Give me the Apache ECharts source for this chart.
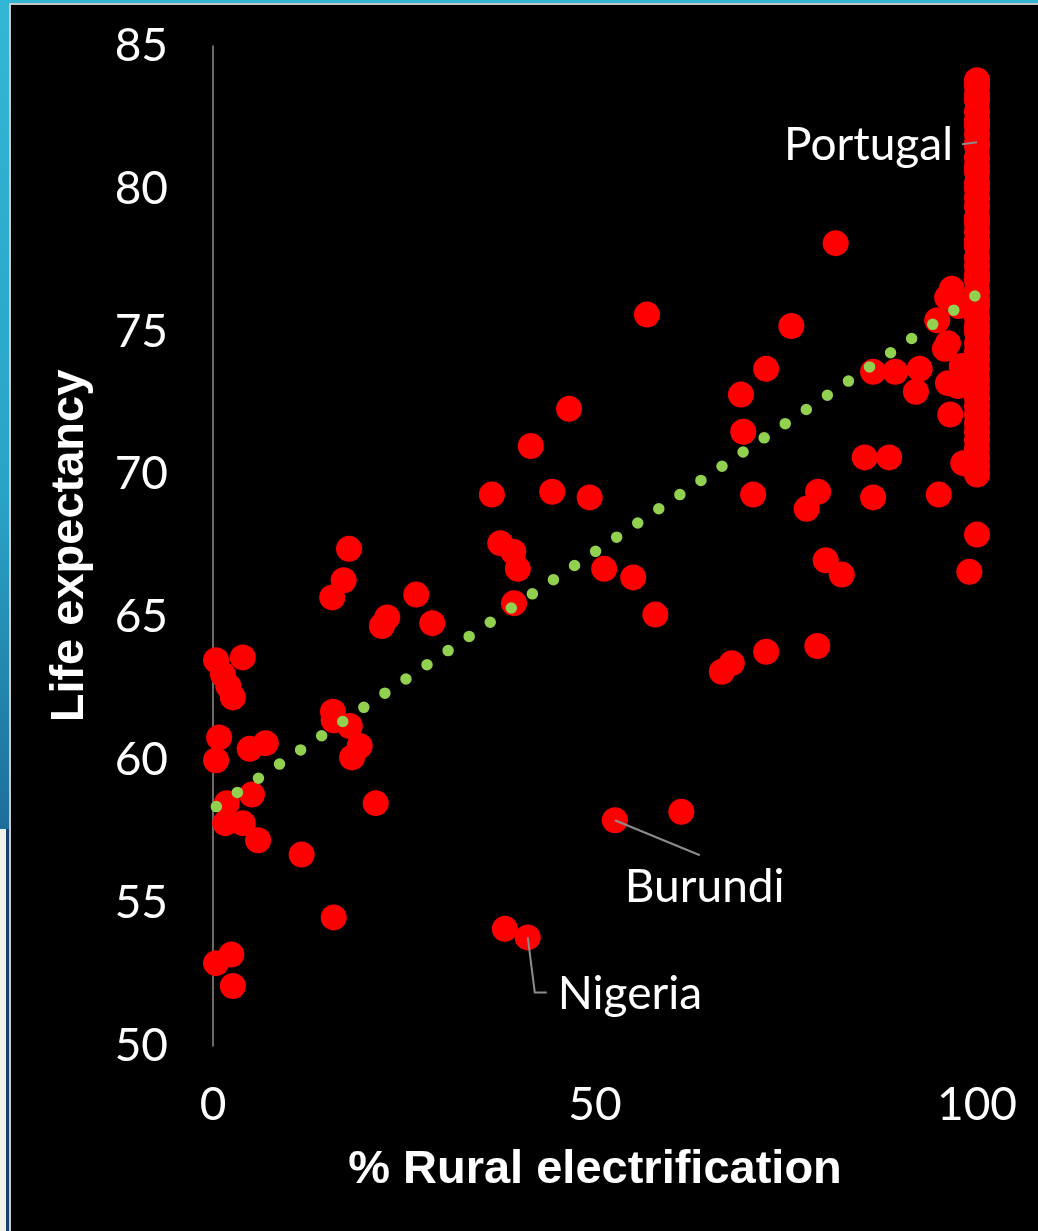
<!DOCTYPE html>
<html>
<head>
<meta charset="utf-8">
<style>
  html, body { margin: 0; padding: 0; background: #000; }
  #chart { width: 1038px; height: 1231px; }
</style>
<script src="https://cdn.jsdelivr.net/npm/echarts@6/dist/echarts.min.js"></script>
</head>
<body>
<div id="chart"></div>
<script>
// ---- Data: [% rural electrification, life expectancy] ----
const lowAccess = [
  [0.4, 63.5], [3.9, 63.6], [1.3, 63.0], [2.0, 62.6], [2.6, 62.2],
  [0.8, 60.8], [0.4, 60.0], [4.8, 60.4], [6.9, 60.6],
  [5.1, 58.8], [1.8, 58.5], [1.6, 57.8], [3.9, 57.8], [5.9, 57.2],
  [11.6, 56.7], [2.4, 53.2], [0.4, 52.9], [2.6, 52.1]
];
const lowMidAccess = [
  [15.7, 61.7], [15.8, 61.4], [17.9, 61.2], [19.2, 60.5], [18.2, 60.1],
  [21.3, 58.5], [15.8, 54.5],
  [17.8, 67.4], [17.1, 66.3], [15.6, 65.7], [26.6, 65.8], [22.8, 65.0],
  [22.1, 64.7], [28.7, 64.8]
];
const midAccess = [
  [56.8, 75.6], [46.6, 72.3], [41.6, 71.0], [36.5, 69.3], [44.4, 69.4],
  [49.3, 69.2], [37.6, 67.6], [39.3, 67.3], [39.9, 66.7], [39.4, 65.5],
  [51.2, 66.7], [55.0, 66.4], [57.9, 65.1],
  [52.6, 57.9], [61.3, 58.2], [41.2, 53.8], [38.2, 54.1]
];
const highAccess = [
  [81.5, 78.1], [75.7, 75.2], [72.4, 73.7], [69.1, 72.8], [69.4, 71.5],
  [70.7, 69.3], [79.2, 69.4], [77.7, 68.8], [85.3, 70.6], [88.5, 70.6],
  [86.4, 69.2], [95.0, 69.3], [80.2, 67.0], [82.3, 66.5], [99.0, 66.6],
  [72.4, 63.8], [79.1, 64.0], [67.9, 63.4], [66.6, 63.1],
  [86.4, 73.6], [89.3, 73.6], [92.5, 73.7], [92.0, 72.9],
  [96.7, 76.5], [96.1, 76.2], [94.8, 75.4], [97.6, 75.9], [96.2, 74.6],
  [95.8, 74.4], [96.2, 73.2], [97.5, 73.1], [98.0, 73.8], [96.5, 72.1],
  [98.2, 70.4]
];
// countries at 100 % rural electrification (life expectancy values)
const fullAccessLife = [
  83.8, 83.6, 83.3, 83.1, 82.7, 82.4, 82.2, 81.9, 81.6, 81.5, 81.1, 80.8,
  80.6, 80.2, 80.0, 79.7, 79.4, 79.0, 78.8, 78.5, 78.2, 78.0, 77.6, 77.3,
  77.0, 76.8, 76.4, 76.1, 75.9, 75.5, 75.2, 75.0, 74.6, 74.3, 74.0, 73.7,
  73.3, 73.0, 72.7, 72.4, 72.1, 71.8, 71.5, 71.2, 70.9, 70.6, 70.3, 70.0,
  67.9
];
// linear trend line end points
const trendX = [0, 100];
const trendY = [58.3, 76.3];
// labelled countries
const labelNames = ['Portugal', 'Burundi', 'Nigeria'];
const labelPoints = [[100, 81.6], [52.6, 57.9], [41.2, 53.8]];
// axis ticks
const xTicks = [0, 50, 100];
const yTicks = [50, 55, 60, 65, 70, 75, 80, 85];

const allPoints = [].concat(lowAccess, lowMidAccess, midAccess, highAccess,
  fullAccessLife.map(v => [100, v]));

const chart = echarts.init(document.getElementById('chart'));
const tickFont = 'Lato, "Noto Sans", sans-serif';
const titleFont = '"Liberation Sans", Arial, sans-serif';

chart.setOption({
  backgroundColor: '#000000',
  animation: false,
  grid: { left: 213, right: 61, top: 46, bottom: 185 },
  xAxis: {
    type: 'value',
    min: xTicks[0], max: xTicks[xTicks.length - 1], interval: 50,
    name: '% Rural electrification',
    nameLocation: 'middle',
    nameGap: 124,
    nameTextStyle: { color: '#fff', fontSize: 47, fontWeight: 'bold', fontFamily: titleFont, verticalAlign: 'middle' },
    axisLine: { show: false },
    axisTick: { show: false },
    splitLine: { show: false },
    axisLabel: { color: '#fff', fontSize: 46, fontFamily: tickFont, margin: 36 }
  },
  yAxis: {
    type: 'value',
    min: yTicks[0], max: yTicks[yTicks.length - 1], interval: 5,
    name: 'Life expectancy',
    nameLocation: 'middle',
    nameRotate: 90,
    nameGap: 143,
    nameTextStyle: { color: '#fff', fontSize: 47, fontWeight: 'bold', fontFamily: titleFont, verticalAlign: 'middle' },
    axisLine: { show: true, lineStyle: { color: '#8c8c8c', width: 1.5 } },
    axisTick: { show: false },
    splitLine: { show: false },
    axisLabel: { color: '#fff', fontSize: 46, fontFamily: tickFont, margin: 45 }
  },
  series: [
    {
      type: 'scatter',
      data: allPoints,
      symbol: 'circle',
      symbolSize: 26,
      itemStyle: { color: '#ff0000', opacity: 1 },
      z: 2
    },
    {
      type: 'line',
      data: trendX.map((x, i) => [x, trendY[i]]),
      symbol: 'none',
      lineStyle: { color: '#92d050', width: 11.5, type: [0, 25.4], cap: 'round', dashOffset: 21.4 },
      z: 3
    }
  ]
});

// annotations (leader lines + country names) positioned from data via the chart scales
const px = labelPoints.map(p => chart.convertToPixel({ gridIndex: 0 }, p));
const lineStyle = { stroke: '#8c8c8c', lineWidth: 2 };
const txtStyle = { fill: '#fff', font: '46px ' + tickFont, textVerticalAlign: 'middle' };
const graphics = [
  // frame
  { type: 'rect', shape: { x: 0, y: 0, width: 1038, height: 3 }, style: { fill: '#33b6d4' }, z: 100 },
  { type: 'rect', shape: { x: 9, y: 3, width: 1029, height: 2 }, style: { fill: '#c8c8c8' }, z: 100 },
  { type: 'rect', shape: { x: 0, y: 0, width: 9, height: 829 },
    style: { fill: new echarts.graphic.LinearGradient(0, 0, 0, 1, [
      { offset: 0, color: '#33b6d4' }, { offset: 0.6, color: '#2aa3c6' }, { offset: 1, color: '#1d6f99' }]) }, z: 100 },
  { type: 'rect', shape: { x: 0, y: 829, width: 6, height: 402 }, style: { fill: '#eef1e6' }, z: 100 },
  { type: 'rect', shape: { x: 6, y: 829, width: 3, height: 402 }, style: { fill: '#17406f' }, z: 100 },
  { type: 'rect', shape: { x: 9, y: 3, width: 2, height: 1228 }, style: { fill: '#c8c8c8' }, z: 100 },
  // Portugal
  { type: 'line', shape: { x1: px[0][0] - 15, y1: px[0][1] + 1, x2: px[0][0], y2: px[0][1] - 1 }, style: lineStyle, z: 50 },
  { type: 'text', x: px[0][0] - 24, y: px[0][1] + 2, style: Object.assign({ text: labelNames[0], textAlign: 'right' }, txtStyle), z: 50 },
  // Burundi
  { type: 'line', shape: { x1: px[1][0], y1: px[1][1], x2: px[1][0] + 85, y2: px[1][1] + 35 }, style: lineStyle, z: 50 },
  { type: 'text', x: px[1][0] + 10, y: px[1][1] + 67, style: Object.assign({ text: labelNames[1], textAlign: 'left' }, txtStyle), z: 50 },
  // Nigeria
  { type: 'polyline', shape: { points: [[px[2][0], px[2][1]], [px[2][0] + 7, px[2][1] + 55], [px[2][0] + 19, px[2][1] + 55]] }, style: Object.assign({ fill: null }, lineStyle), z: 50 },
  { type: 'text', x: px[2][0] + 30, y: px[2][1] + 57, style: Object.assign({ text: labelNames[2], textAlign: 'left' }, txtStyle), z: 50 }
];
chart.setOption({ graphic: graphics });
</script>
</body>
</html>
